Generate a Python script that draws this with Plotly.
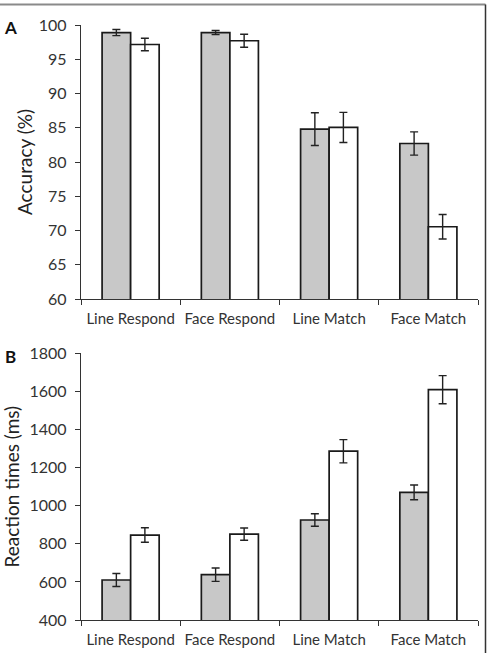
import plotly.graph_objects as go

categories = ["Line Respond", "Face Respond", "Line Match", "Face Match"]

acc_gray = [98.9, 98.9, 84.8, 82.7]
acc_gray_err = [0.45, 0.3, 2.4, 1.7]
acc_white = [97.15, 97.7, 85.05, 70.55]
acc_white_err = [0.92, 0.95, 2.2, 1.78]

rt_gray = [610, 638, 925, 1070]
rt_gray_err = [34, 35, 33, 39]
rt_white = [846, 851, 1286, 1609]
rt_white_err = [38, 32, 61, 74]

acc_ticks = [60, 65, 70, 75, 80, 85, 90, 95, 100]
rt_ticks = [400, 600, 800, 1000, 1200, 1400, 1600, 1800]

W, H = 487, 653
FONT = "Lato"
GRAY = "#c8c8c8"
EDGE = "#1a1a1a"
AX = "#333333"

def err(vals):
    return dict(type="data", array=vals, visible=True, color="#222222", thickness=1.4, width=4)

fig = go.Figure()
fig.add_trace(go.Bar(x=categories, y=acc_gray, error_y=err(acc_gray_err), marker=dict(color=GRAY, line=dict(color=EDGE, width=1.7)), xaxis="x", yaxis="y", showlegend=False, offsetgroup="g"))
fig.add_trace(go.Bar(x=categories, y=acc_white, error_y=err(acc_white_err), marker=dict(color="white", line=dict(color=EDGE, width=1.7)), xaxis="x", yaxis="y", showlegend=False, offsetgroup="w"))
fig.add_trace(go.Bar(x=categories, y=rt_gray, error_y=err(rt_gray_err), marker=dict(color=GRAY, line=dict(color=EDGE, width=1.7)), xaxis="x2", yaxis="y2", showlegend=False, offsetgroup="g"))
fig.add_trace(go.Bar(x=categories, y=rt_white, error_y=err(rt_white_err), marker=dict(color="white", line=dict(color=EDGE, width=1.7)), xaxis="x2", yaxis="y2", showlegend=False, offsetgroup="w"))

xdom = [81 / W, 478 / W]
ydomA = [1 - 299 / H, 1 - 25 / H]
ydomB = [1 - 620 / H, 1 - 353.3 / H]

xcommon = dict(type="category", showline=True, linecolor=AX, linewidth=1.3, ticks="outside", tickson="boundaries",
               ticklen=5, tickcolor=AX, tickwidth=1.3, showgrid=False, zeroline=False, ticklabelstandoff=6,
               tickangle=0, automargin=False,
               tickfont=dict(family=FONT, size=15, color="#333333"), fixedrange=True)
ycommon = dict(showline=True, linecolor=AX, linewidth=1.3, ticks="outside", ticklen=5, tickcolor=AX, tickwidth=1.3,
               showgrid=False, zeroline=False, ticklabelstandoff=5, automargin=False,
               tickfont=dict(family=FONT, size=16, color="#333333"), fixedrange=True)

fig.update_layout(
    width=W, height=H, margin=dict(l=0, r=0, t=0, b=0),
    paper_bgcolor="white", plot_bgcolor="white",
    barmode="group", bargap=0.425, bargroupgap=0,
    xaxis=dict(domain=xdom, anchor="y", **xcommon),
    yaxis=dict(domain=ydomA, anchor="x", range=[60, 100], tickvals=acc_ticks,
               title=dict(text="Accuracy (%)", font=dict(family=FONT, size=19, color="#222222"), standoff=1), **ycommon),
    xaxis2=dict(domain=xdom, anchor="y2", **xcommon),
    yaxis2=dict(domain=ydomB, anchor="x2", range=[400, 1800], tickvals=rt_ticks,
                title=dict(text="Reaction times (ms)", font=dict(family=FONT, size=19, color="#222222"), standoff=7), **ycommon),
    shapes=[
        dict(type="line", xref="paper", yref="paper", x0=0, x1=485.5 / W, y0=1 - 4.5 / H, y1=1 - 4.5 / H,
             line=dict(color="#8a8a8a", width=2)),
        dict(type="line", xref="paper", yref="paper", x0=485.5 / W, x1=485.5 / W, y0=0, y1=1 - 4.5 / H,
             line=dict(color="#333333", width=1.5)),
    ],
    annotations=[
        dict(text="<b>A</b>", x=10 / W, y=1 - 28 / H, xref="paper", yref="paper", showarrow=False,
             font=dict(family=FONT, size=17, color="#111111"), xanchor="center", yanchor="middle"),
        dict(text="<b>B</b>", x=10 / W, y=1 - 357 / H, xref="paper", yref="paper", showarrow=False,
             font=dict(family=FONT, size=17, color="#111111"), xanchor="center", yanchor="middle"),
    ],
)

fig.write_html("out.html")
